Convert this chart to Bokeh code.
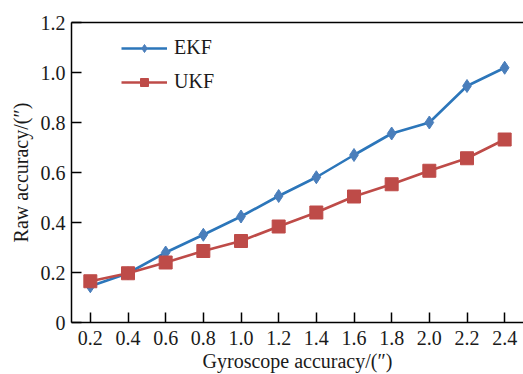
from bokeh.plotting import figure
from bokeh.models import (ColumnDataSource, FixedTicker, LinearAxis, Legend,
                          LegendItem, Range1d)
from bokeh.embed import file_html
from bokeh.resources import INLINE

# Gyroscope accuracy (arcsec) and the resulting raw accuracy per filter
gyro = [0.2, 0.4, 0.6, 0.8, 1.0, 1.2, 1.4, 1.6, 1.8, 2.0, 2.2, 2.4]
ekf = [0.145, 0.197, 0.280, 0.351, 0.424, 0.506, 0.581, 0.670, 0.756, 0.800, 0.946, 1.019]
ukf = [0.165, 0.197, 0.240, 0.286, 0.326, 0.384, 0.440, 0.504, 0.553, 0.607, 0.657, 0.732]

x_ticks = [0.2, 0.4, 0.6, 0.8, 1.0, 1.2, 1.4, 1.6, 1.8, 2.0, 2.2, 2.4]
y_ticks = [0, 0.2, 0.4, 0.6, 0.8, 1.0, 1.2]
y_tick_labels = ["0", "0.2", "0.4", "0.6", "0.8", "1.0", "1.2"]

FONT = "'Liberation Serif', 'Times New Roman', Times, serif"
EKF_LINE = "#2C76BA"
EKF_MARK = "#4A7EBB"
UKF_COLOR = "#BE4B48"

src = ColumnDataSource(dict(x=gyro, ekf=ekf, ukf=ukf))

p = figure(width=523, height=374, output_backend="svg", toolbar_location=None,
           x_range=Range1d(0.1, 2.5), y_range=Range1d(0, 1.2),
           min_border_left=71, min_border_right=0, min_border_top=22,
           min_border_bottom=51)
p.outline_line_color = None
p.xgrid.visible = False
p.ygrid.visible = False
p.background_fill_color = "white"
p.border_fill_color = "white"

# Curves
l1 = p.line("x", "ekf", source=src, line_color=EKF_LINE, line_width=2.6)
m1 = p.scatter("x", "ekf", source=src, marker="diamond", size=13,
               fill_color=EKF_MARK, line_color=EKF_MARK)
l2 = p.line("x", "ukf", source=src, line_color=UKF_COLOR, line_width=2.6)
m2 = p.scatter("x", "ukf", source=src, marker="square", size=13,
               fill_color=UKF_COLOR, line_color=UKF_COLOR)

# Axes with inward ticks
for ax in (p.xaxis[0], p.yaxis[0]):
    ax.major_tick_in = 10
    ax.major_tick_out = 0
    ax.minor_tick_in = 0
    ax.minor_tick_out = 0
    ax.axis_line_width = 1.5
    ax.major_tick_line_width = 1.5
    ax.axis_line_color = "black"
    ax.major_tick_line_color = "black"
    ax.major_label_text_font = FONT
    ax.major_label_text_font_size = "20px"
    ax.major_label_text_color = "#1a1a1a"
    ax.axis_label_text_font = FONT
    ax.axis_label_text_font_size = "20px"
    ax.axis_label_text_font_style = "normal"
    ax.axis_label_text_color = "#1a1a1a"

p.xaxis[0].ticker = FixedTicker(ticks=x_ticks)
p.xaxis[0].major_label_overrides = {t: f"{t:.1f}" for t in x_ticks}
p.xaxis[0].major_label_standoff = 8
p.xaxis[0].axis_label = "Gyroscope accuracy/(\u2033)"
p.xaxis[0].axis_label_standoff = 2

p.yaxis[0].ticker = FixedTicker(ticks=y_ticks)
p.yaxis[0].major_label_overrides = dict(zip(y_ticks, y_tick_labels))
p.yaxis[0].major_label_standoff = 6
p.yaxis[0].axis_label = "Raw accuracy/(\u2033)"
p.yaxis[0].axis_label_standoff = 6

# Top frame edge only (no right edge)
top = LinearAxis(ticker=FixedTicker(ticks=[]), major_tick_in=0, major_tick_out=0,
                 minor_tick_in=0, minor_tick_out=0, axis_line_width=1.5,
                 axis_line_color="black", major_label_text_font_size="0px")
p.add_layout(top, "above")

legend = Legend(items=[LegendItem(label="EKF", renderers=[l1, m1]),
                       LegendItem(label="UKF", renderers=[l2, m2])],
                location=(50, 229), padding=0, margin=0, spacing=11,
                glyph_width=46, glyph_height=20, label_height=20,
                label_standoff=7, border_line_color=None,
                background_fill_alpha=0, label_text_font=FONT,
                label_text_font_size="20px", label_text_color="#1a1a1a")
p.add_layout(legend, "center")

open("out.html", "w").write(file_html(p, INLINE))
